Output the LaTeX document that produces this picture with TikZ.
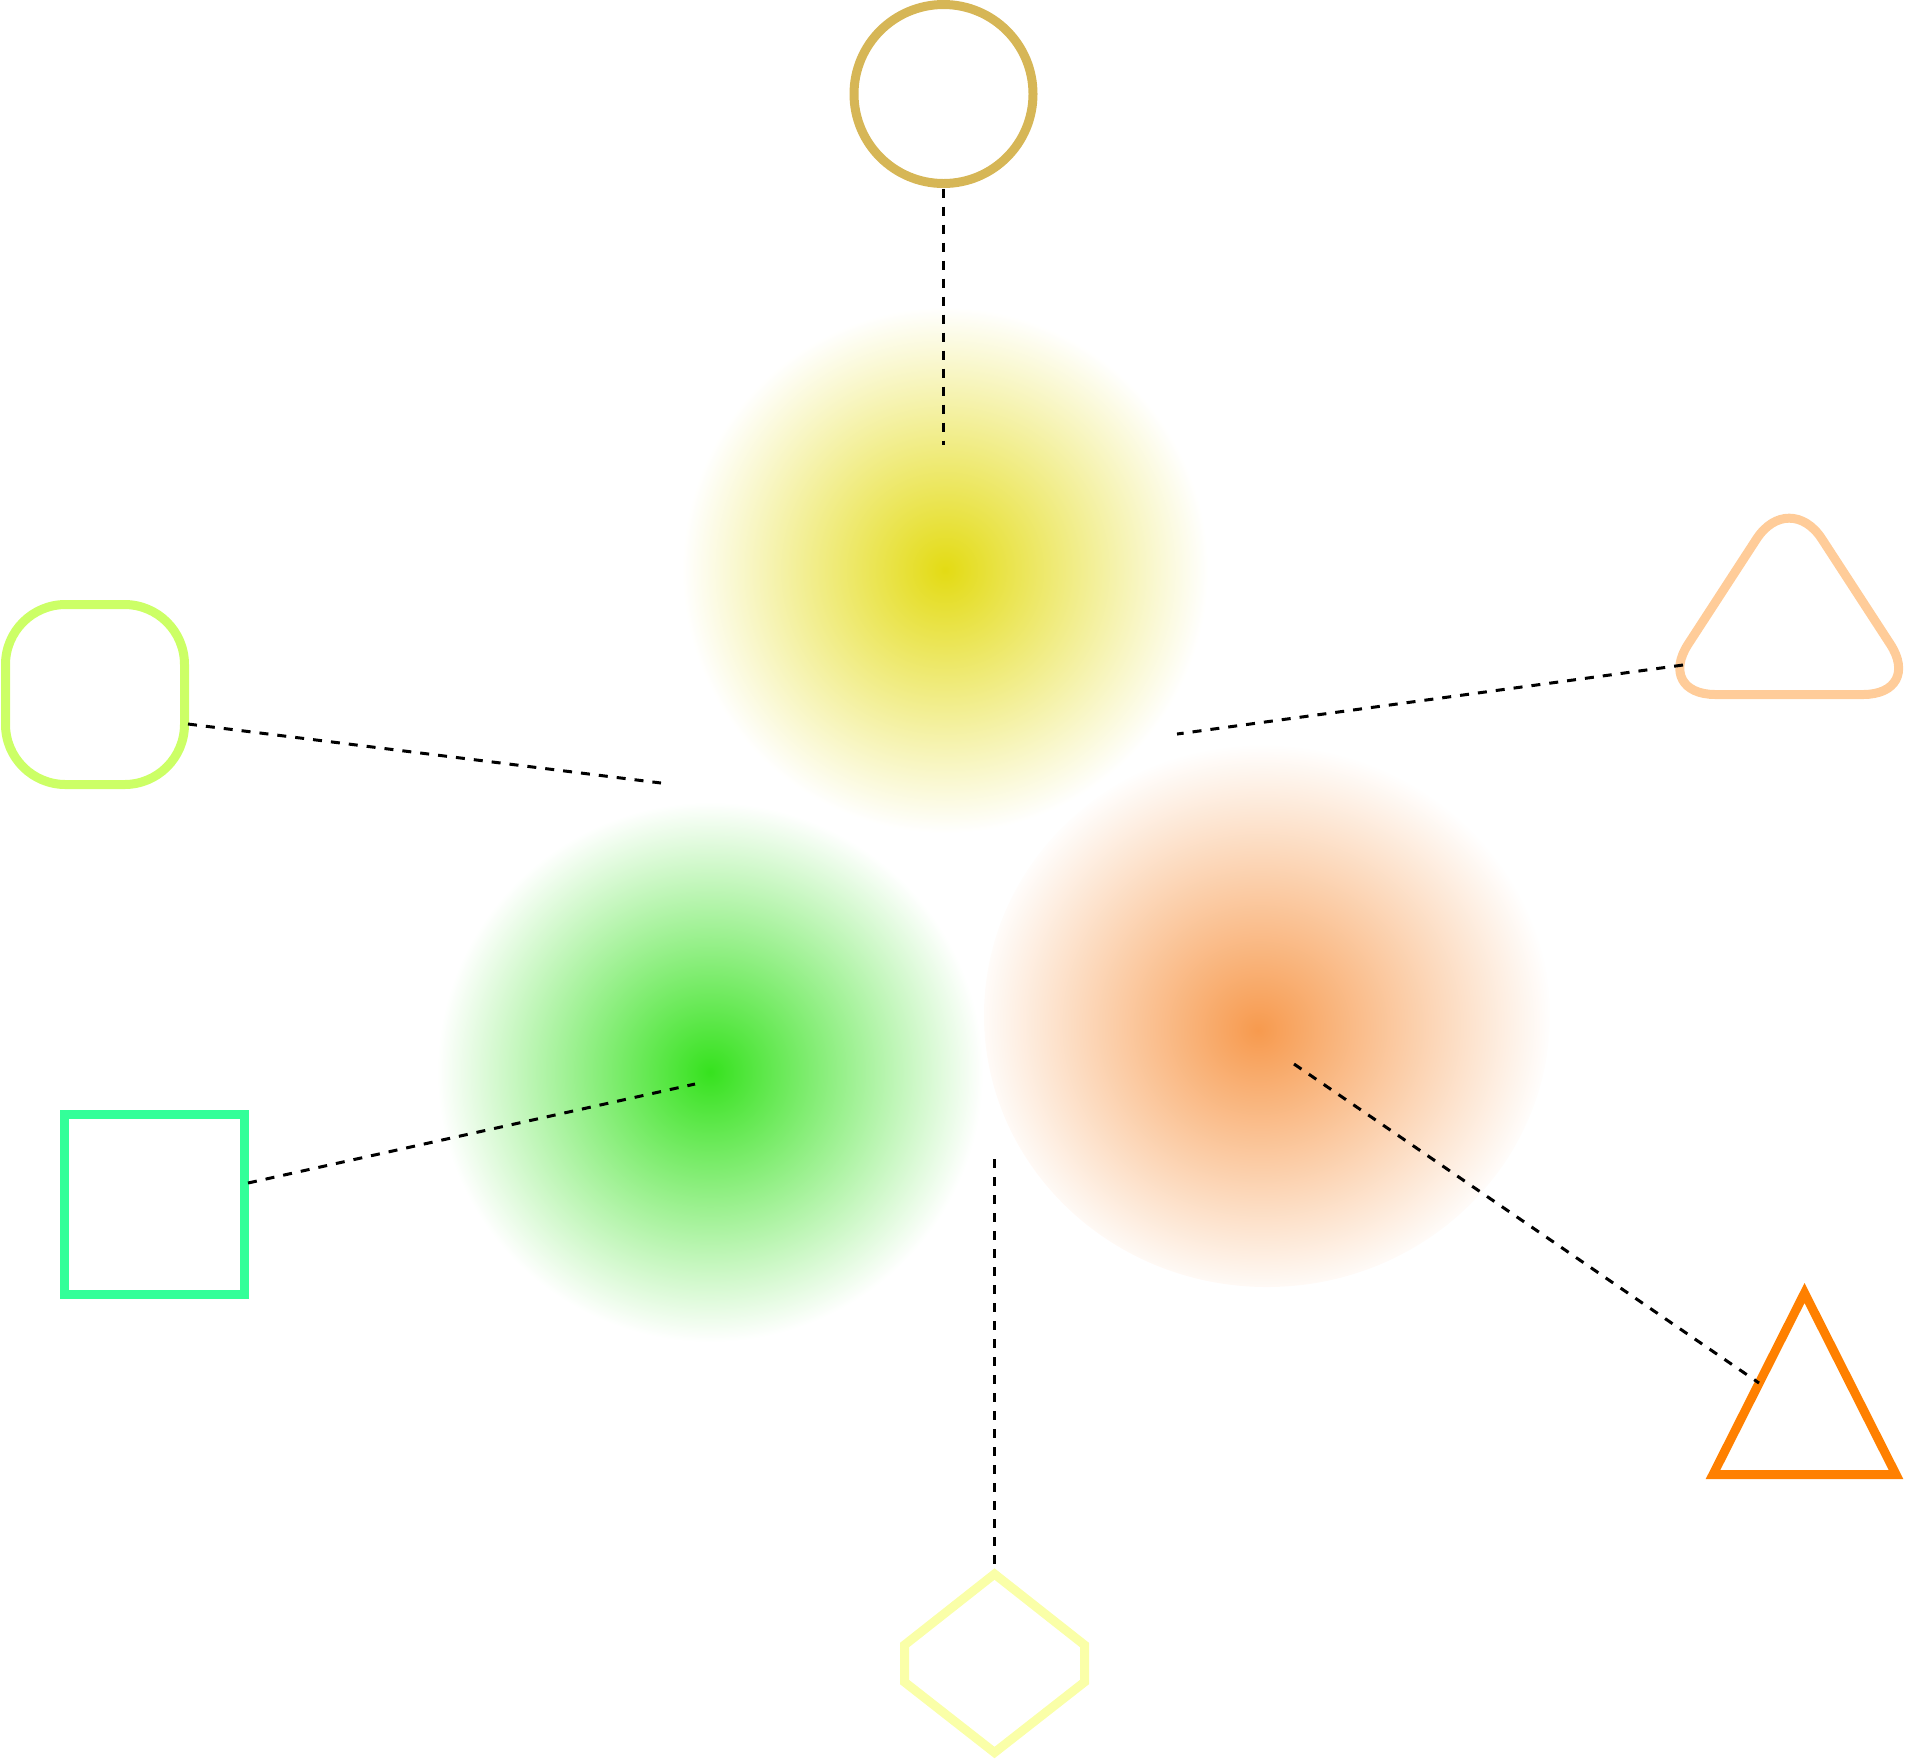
\documentclass[tikz,border=0pt]{standalone}
\definecolor{circcol}{HTML}{D6B656}
\definecolor{rtricol}{HTML}{FFCC99}
\definecolor{rsqcol}{HTML}{CCFF66}
\definecolor{gsqcol}{HTML}{33FF99}
\definecolor{otricol}{HTML}{FF8000}
\definecolor{hexcol}{HTML}{FAFFA8}
\definecolor{yblob}{HTML}{E3DB14}
\definecolor{gblob}{HTML}{36E21E}
\definecolor{oblob}{HTML}{F79A4E}
\pgfdeclareradialshading{orangeblob}{\pgfpoint{-0.8bp}{-1.4bp}}{color(0bp)=(oblob); color(25.6bp)=(white); color(50bp)=(white)}
\begin{document}
\begin{tikzpicture}[x=0.5pt,y=-0.5pt,
  outline/.style={line width=4.5pt},
  link/.style={line width=1.5pt, dash pattern=on 4.5pt off 4.5pt, black}]
\useasboundingbox (0,0) rectangle (1932,1758);
% gradient blobs
\shade[inner color=yblob, outer color=white] (945,570) circle [radius=263];
\shade[inner color=gblob, outer color=white] (710,1072) ellipse [x radius=273, y radius=270];
\shade[shading=orangeblob] (1267,1015) ellipse [x radius=283, y radius=272];
% outlined shapes
\draw[outline, circcol] (943.5,94) circle [radius=89.5];
\draw[outline, rtricol, rounded corners=30pt] (1789,694.5) -- (1655.4,694.5) -- (1789.2,488.7) -- (1923,694.5) -- cycle;
\draw[outline, rsqcol, rounded corners=30pt] (5.5,604.5) rectangle (184.5,784.5);
\draw[outline, gsqcol] (64.5,1114.5) rectangle (244.5,1294.5);
\draw[outline, otricol] (1804.5,1293) -- (1896,1474.5) -- (1713,1474.5) -- cycle;
\draw[outline, hexcol] (994.5,1574) -- (1084.5,1645) -- (1084.5,1682) -- (994.5,1752.5) -- (904.5,1682) -- (904.5,1645) -- cycle;
% connector end points
\coordinate (circB) at (943.5,188.5);
\coordinate (yEnd) at (943.5,445);
\coordinate (rtriL) at (1683,665);
\coordinate (rEnd) at (1177,734);
\coordinate (rsqR) at (188,724);
\coordinate (lEnd) at (661,783);
\coordinate (gsqR) at (248,1183);
\coordinate (gEnd) at (695,1084);
\coordinate (oEnd) at (1294,1064);
\coordinate (otriL) at (1759,1383);
\coordinate (hEnd) at (994.5,1159);
\coordinate (hexT) at (994.5,1569);
% connectors
\draw[link] (circB) -- (yEnd);
\draw[link] (rtriL) -- (rEnd);
\draw[link] (rsqR) -- (lEnd);
\draw[link] (gsqR) -- (gEnd);
\draw[link] (oEnd) -- (otriL);
\draw[link] (hEnd) -- (hexT);
\end{tikzpicture}
\end{document}
